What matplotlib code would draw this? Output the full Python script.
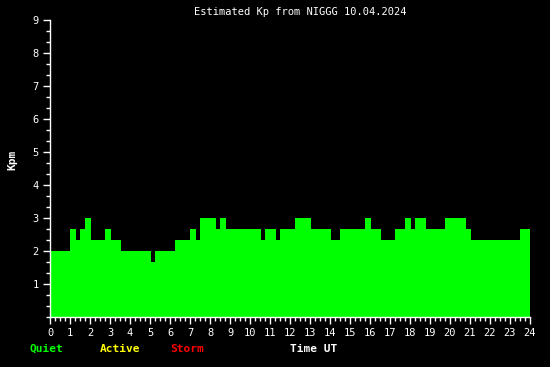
import matplotlib
matplotlib.use("Agg")
import matplotlib.pyplot as plt
from matplotlib.ticker import MultipleLocator

# === Daten (Kp, 10.04.2024) ===
edges = [0.0, 1.0, 1.3, 1.5, 1.75, 2.05, 2.75, 3.05, 3.55, 5.05, 5.25, 6.25,
         7.0, 7.3, 7.5, 8.3, 8.5, 8.8, 10.55, 10.75, 11.3, 11.5, 12.25, 13.05,
         14.05, 14.5, 15.75, 16.05, 16.55, 17.25, 17.75, 18.05, 18.25, 18.8,
         19.75, 20.8, 21.05, 23.5, 24.0]
kp = [2.0, 2.67, 2.33, 2.67, 3.0, 2.33, 2.67, 2.33, 2.0, 1.67, 2.0, 2.33,
      2.67, 2.33, 3.0, 2.67, 3.0, 2.67, 2.33, 2.67, 2.33, 2.67, 3.0, 2.67,
      2.33, 2.67, 3.0, 2.67, 2.33, 2.67, 3.0, 2.67, 3.0, 2.67,
      3.0, 2.67, 2.33, 2.67]
x_ticks = list(range(0, 25))
y_ticks = list(range(1, 10))

FONT = "DejaVu Sans Mono"

fig = plt.figure(figsize=(5.5, 3.67), dpi=100, facecolor="black")
ax = fig.add_axes([50/550, 50/367, 480/550, 297/367], facecolor="black")

ax.stairs(kp, edges, fill=True, color="#00ff00", antialiased=False, linewidth=0)

ax.set_xlim(0, 24)
ax.set_ylim(0, 9)
ax.set_xticks(x_ticks)
ax.set_yticks(y_ticks)
ax.xaxis.set_minor_locator(MultipleLocator(0.25))
ax.yaxis.set_minor_locator(MultipleLocator(1/3))

for s in ["top", "right"]:
    ax.spines[s].set_visible(False)
for s in ["left", "bottom"]:
    ax.spines[s].set_color("white")
    ax.spines[s].set_linewidth(1)

ax.tick_params(which="major", colors="white", length=5, width=1, labelsize=7.5, pad=3)
ax.tick_params(which="minor", colors="white", length=3, width=1)
for lbl in ax.get_xticklabels() + ax.get_yticklabels():
    lbl.set_family(FONT)

fig.text(300/550, 1 - 12/367, "Estimated Kp from NIGGG 10.04.2024", color="white",
         family=FONT, fontsize=7.5, ha="center", va="center")
fig.text(12/550, 1 - 160/367, "Kpm", color="white", family=FONT, fontsize=8,
         fontweight="bold", rotation=90, ha="center", va="center")

y_leg = 1 - 349/367
fig.text(30/550, y_leg, "Quiet", color="#00ff00", family=FONT, fontsize=8, fontweight="bold", va="center")
fig.text(100/550, y_leg, "Active", color="#ffff00", family=FONT, fontsize=8, fontweight="bold", va="center")
fig.text(170/550, y_leg, "Storm", color="#ff0000", family=FONT, fontsize=8, fontweight="bold", va="center")
fig.text(290/550, y_leg, "Time UT", color="white", family=FONT, fontsize=8, fontweight="bold", va="center")

fig.savefig("out.png", dpi=100, facecolor="black")
